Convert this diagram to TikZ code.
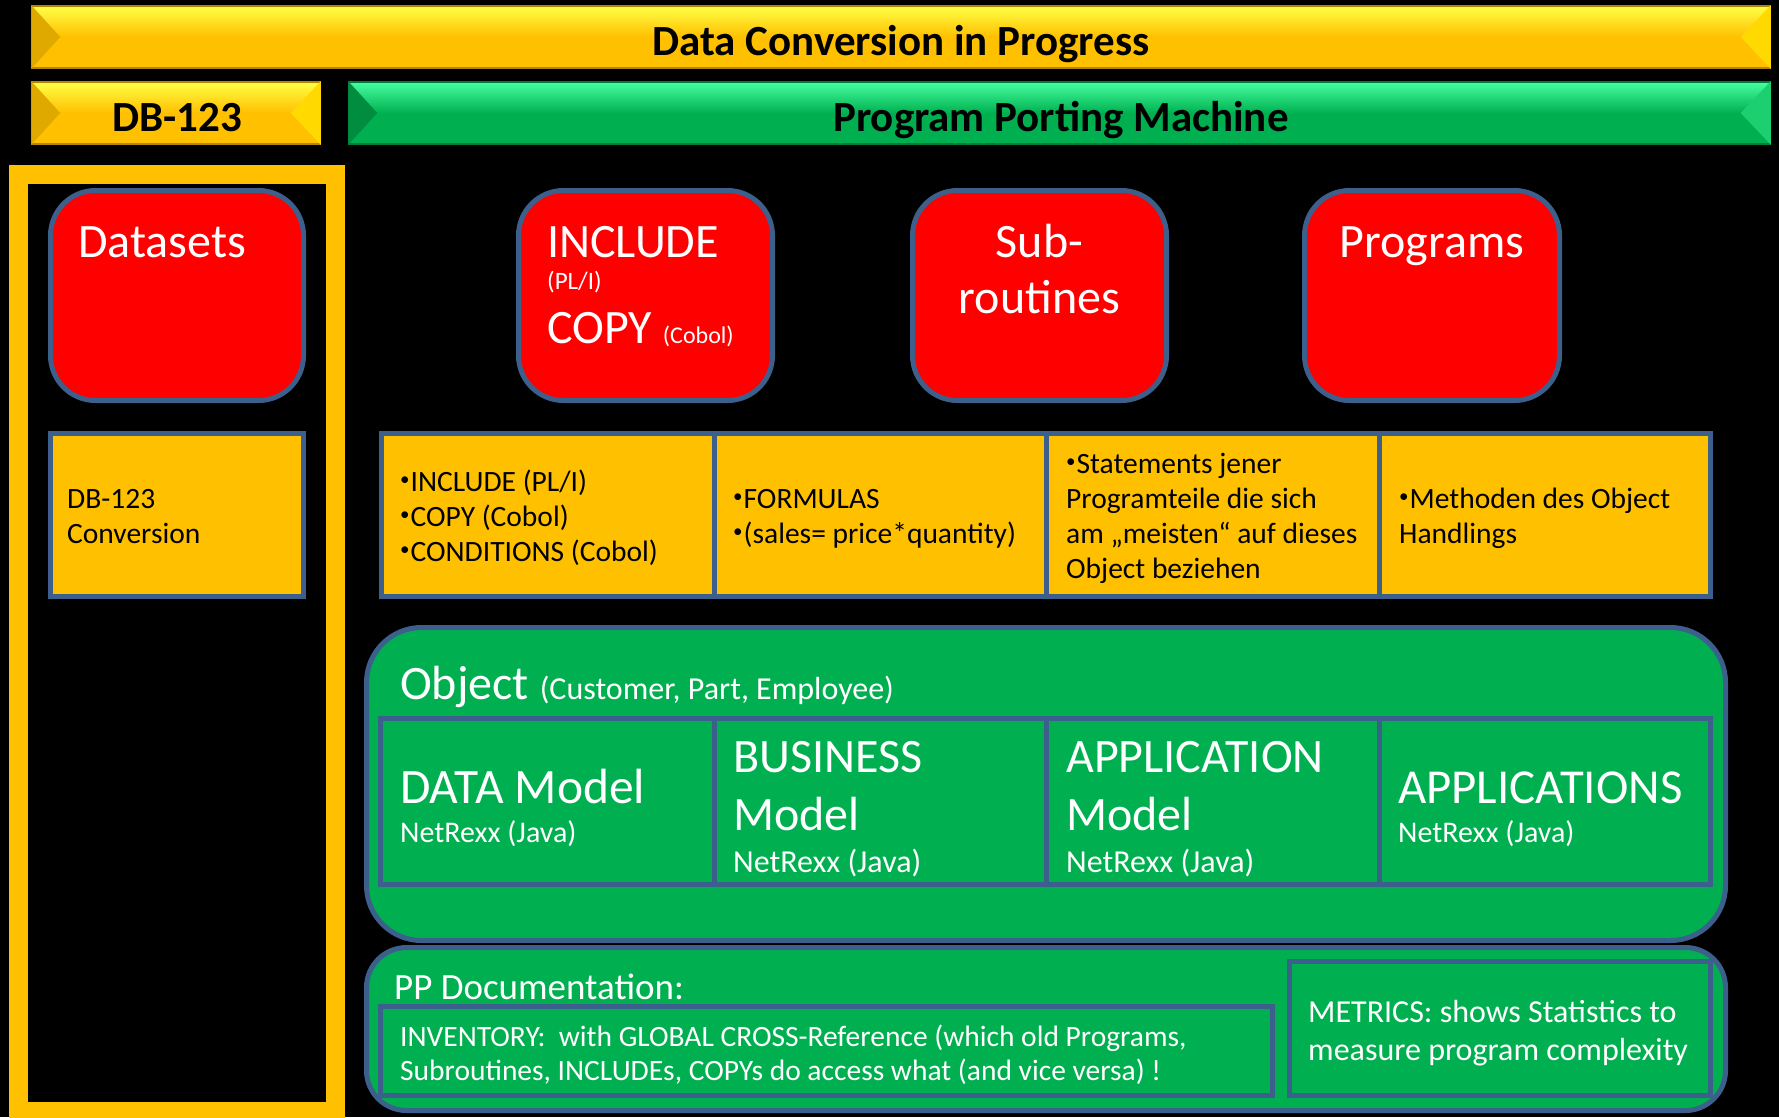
\documentclass[tikz,border=0pt]{standalone}
\usepackage{fontspec}
\setmainfont{Carlito}
\definecolor{ygold}{RGB}{255,192,0}
\definecolor{ylight}{RGB}{255,255,70}
\definecolor{gdark}{RGB}{0,176,80}
\definecolor{glight}{RGB}{70,255,160}
\definecolor{bord}{RGB}{60,95,140}
\definecolor{boxred}{RGB}{255,0,0}
\definecolor{boxgreen}{RGB}{0,176,80}
\pgfdeclareverticalshading{ybar}{100bp}{color(0bp)=(ygold); color(25bp)=(ygold); color(50bp)=(ygold); color(75bp)=(ylight); color(100bp)=(ylight)}
\pgfdeclareverticalshading{gbar}{100bp}{color(0bp)=(gdark); color(25bp)=(gdark); color(50bp)=(gdark); color(75bp)=(glight); color(100bp)=(glight)}
\newcommand\mybul{{\fontsize{19}{19}\selectfont\raisebox{6pt}{•}}\hspace{1pt}}
\tikzset{
  ybanner/.style={shade, shading=ybar, draw=ygold!70!black, line width=1.5pt, inner sep=0},
  gbanner/.style={shade, shading=gbar, draw=gdark!70!black, line width=1.5pt, inner sep=0},
  redbox/.style={fill=boxred, draw=bord, line width=5pt, rounded corners=45pt, inner sep=0},
  ycell/.style={fill=ygold, draw=bord, line width=5pt, inner sep=0},
  gcell/.style={fill=boxgreen, draw=bord, line width=5pt, inner sep=0},
  lbl/.style={anchor=base west, inner sep=0, text=white},
  dlbl/.style={anchor=base west, inner sep=0, text=black},
  hfont/.style={font=\fontsize{43}{52}\selectfont\bfseries},
  bigf/.style={font=\fontsize{48}{58}\selectfont},
  cellf/.style={font=\fontsize{29.5}{36}\selectfont},
  netf/.style={font=\fontsize{30}{36}\selectfont},
  netg/.style={font=\fontsize{32}{38}\selectfont},
}
\begin{document}
\begin{tikzpicture}[x=1pt,y=-1pt]
\fill[black] (0,0) rectangle (1779,1117);
\useasboundingbox (0,0) rectangle (1779,1117);

% left yellow frame
\draw[ygold, line width=19pt] (18.5,174.5) rectangle (335.5,1111.5);

% banners
\node[ybanner, minimum width=1738, minimum height=62] (topbar) at (901,37) {};
\fill[ygold!88!black] (topbar.north west) -- ([xshift=29pt]topbar.west) -- (topbar.south west) -- cycle;
\fill[ygold!60!yellow] (topbar.north east) -- ([xshift=-30pt]topbar.east) -- (topbar.south east) -- cycle;
\node[anchor=base, inner sep=0, hfont] (toptxt) at (901,55) {Data Conversion in Progress};

\node[ybanner, minimum width=288, minimum height=62] (dbbar) at (176,113) {};
\fill[ygold!88!black] (dbbar.north west) -- ([xshift=29pt]dbbar.west) -- (dbbar.south west) -- cycle;
\fill[ygold!60!yellow] (dbbar.north east) -- ([xshift=-30pt]dbbar.east) -- (dbbar.south east) -- cycle;
\node[anchor=base, inner sep=0, hfont] (dbtxt) at (177,131) {DB-123};

\node[gbanner, minimum width=1421, minimum height=62] (ppbar) at (1059.5,113) {};
\fill[gdark!80!black] (ppbar.north west) -- ([xshift=29pt]ppbar.west) -- (ppbar.south west) -- cycle;
\fill[gdark!60!glight] (ppbar.north east) -- ([xshift=-30pt]ppbar.east) -- (ppbar.south east) -- cycle;
\node[anchor=base, inner sep=0, hfont] (pptxt) at (1061,131) {Program Porting Machine};

% red boxes
\node[redbox, minimum width=253, minimum height=210] (ds) at (177,295.5) {};
\node[redbox, minimum width=254, minimum height=210] (inc) at (645.5,295.5) {};
\node[redbox, minimum width=254, minimum height=210] (sub) at (1039.5,295.5) {};
\node[redbox, minimum width=255, minimum height=210] (prg) at (1432,295.5) {};

\node[lbl, bigf] (dstxt) at (78,257) {Datasets};
\node[lbl, bigf] (inctxt) at (547,257) {INCLUDE};
\node[lbl, font=\fontsize{25}{30}\selectfont] (pltxt) at (547,289) {(PL/I)};
\node[lbl, bigf] (copytxt) at (547,343) {COPY {\fontsize{24}{29}\selectfont(Cobol)}};
\node[anchor=base, inner sep=0, text=white, bigf] (subtxt1) at (1039.5,257) {Sub-};
\node[anchor=base, inner sep=0, text=white, bigf] (subtxt2) at (1039.5,313) {routines};
\node[anchor=base, inner sep=0, text=white, bigf] (prgtxt) at (1432,257) {Programs};

% yellow cells
\node[ycell, minimum width=253, minimum height=163] (dbc) at (177,515) {};
\node[ycell, minimum width=332.5, minimum height=163] (c1) at (547.75,515) {};
\node[ycell, minimum width=332, minimum height=163] (c2) at (880,515) {};
\node[ycell, minimum width=333, minimum height=163] (c3) at (1212.5,515) {};
\node[ycell, minimum width=331.5, minimum height=163] (c4) at (1544.75,515) {};

\node[dlbl, cellf] (dbc1) at (67,508) {DB-123};
\node[dlbl, cellf] (dbc2) at (67,543) {Conversion};
\node[dlbl, cellf] (c1a) at (400,491) {\mybul INCLUDE (PL/I)};
\node[dlbl, cellf] (c1b) at (400,526) {\mybul COPY (Cobol)};
\node[dlbl, cellf] (c1c) at (400,561) {\mybul CONDITIONS (Cobol)};
\node[dlbl, cellf] (c2a) at (733,508) {\mybul FORMULAS};
\node[dlbl, cellf] (c2b) at (733,543) {\mybul (sales= price*quantity)};
\node[dlbl, cellf] (c3a) at (1066,473) {\mybul Statements jener};
\node[dlbl, cellf] (c3b) at (1066,508) {Programteile die sich};
\node[dlbl, cellf] (c3c) at (1066,543) {am „meisten“ auf dieses};
\node[dlbl, cellf] (c3d) at (1066,578) {Object beziehen};
\node[dlbl, cellf] (c4a) at (1399,508) {\mybul Methoden des Object};
\node[dlbl, cellf] (c4b) at (1399,543) {Handlings};

% object container
\node[gcell, rounded corners=55pt, minimum width=1359, minimum height=313] (obj) at (1046,784) {};
\node[lbl, font=\fontsize{48}{58}\selectfont] (objtxt) at (400,699) {Object {\fontsize{32}{38}\selectfont(Customer, Part, Employee)}};

\node[gcell, minimum width=333.5, minimum height=166] (m1) at (547.25,801.5) {};
\node[gcell, minimum width=332, minimum height=166] (m2) at (880,801.5) {};
\node[gcell, minimum width=333, minimum height=166] (m3) at (1212.5,801.5) {};
\node[gcell, minimum width=331.5, minimum height=166] (m4) at (1544.75,801.5) {};

\node[lbl, font=\fontsize{49.5}{60}\selectfont] (m1a) at (400,803) {DATA Model};
\node[lbl, netf] (m1b) at (400,842) {NetRexx (Java)};
\node[lbl, bigf] (m2a) at (733,772) {BUSINESS};
\node[lbl, bigf] (m2b) at (733,830) {Model};
\node[lbl, netg] (m2c) at (733,872) {NetRexx (Java)};
\node[lbl, bigf] (m3a) at (1066,772) {APPLICATION};
\node[lbl, bigf] (m3b) at (1066,830) {Model};
\node[lbl, netg] (m3c) at (1066,872) {NetRexx (Java)};
\node[lbl, font=\fontsize{48.8}{59}\selectfont] (m4a) at (1398,803) {APPLICATIONS};
\node[lbl, netf] (m4b) at (1398,842) {NetRexx (Java)};

% PP documentation container
\node[gcell, rounded corners=40pt, minimum width=1359, minimum height=163] (ppdoc) at (1046,1029) {};
\node[lbl, font=\fontsize{37}{44}\selectfont] (pptitle) at (394,999) {PP Documentation:};
\node[gcell, minimum width=892, minimum height=89] (inv) at (826.5,1051) {};
\node[lbl, font=\fontsize{29.5}{36}\selectfont] (inva) at (400,1046) {INVENTORY:\ \ with GLOBAL CROSS-Reference (which old Programs,};
\node[lbl, font=\fontsize{29.5}{36}\selectfont] (invb) at (400,1080) {Subroutines, INCLUDEs, COPYs do access what (and vice versa) !};
\node[gcell, minimum width=421, minimum height=134] (met) at (1500,1028.5) {};
\node[lbl, font=\fontsize{32}{39}\selectfont] (meta) at (1308,1022) {METRICS: shows Statistics to};
\node[lbl, font=\fontsize{32}{39}\selectfont] (metb) at (1308,1060) {measure program complexity};
\end{tikzpicture}
\end{document}
